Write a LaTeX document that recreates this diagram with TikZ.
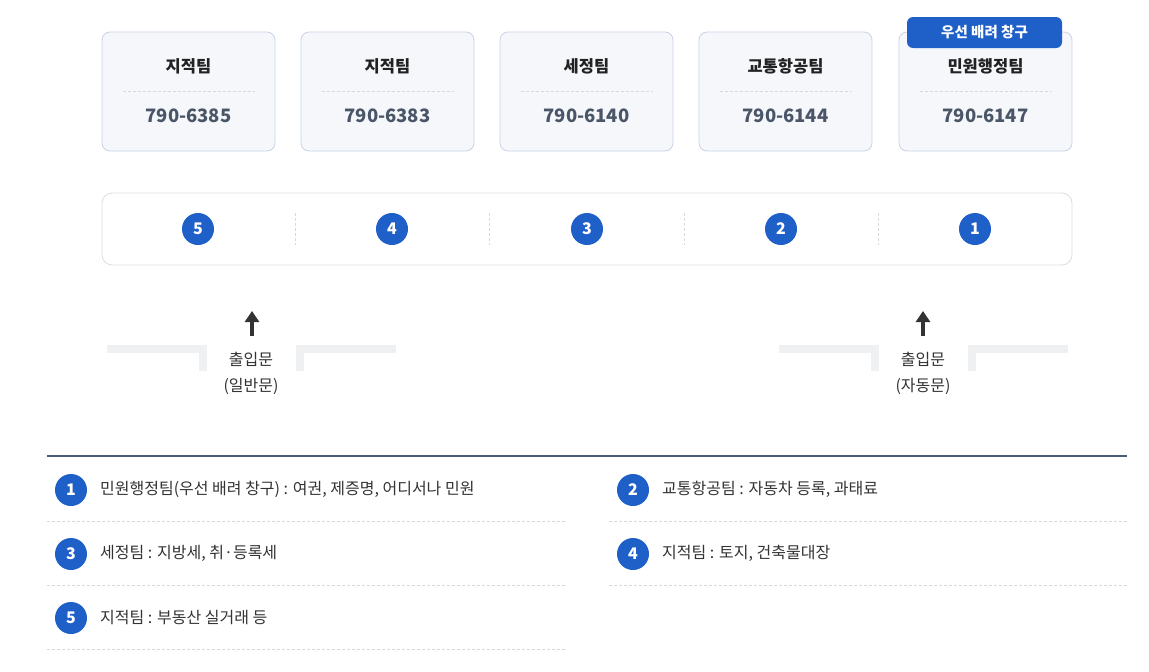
\documentclass[tikz,border=0pt]{standalone}
\usepackage{fontspec}
\setmainfont{Noto Sans CJK KR}
\usetikzlibrary{arrows.meta}
\definecolor{blue1}{HTML}{1F5FC8}
\definecolor{boxfill}{HTML}{F5F7FB}
\definecolor{boxline}{HTML}{C9D3E6}
\definecolor{stripline}{HTML}{DCDDDF}
\definecolor{dashc}{HTML}{D6D9DE}
\definecolor{titlec}{HTML}{222222}
\definecolor{numc}{HTML}{4A5568}
\definecolor{txt}{HTML}{333333}
\definecolor{wall}{HTML}{EFF0F1}
\definecolor{rule}{HTML}{4A5A78}
\tikzset{
  team/.style={draw=boxline, fill=boxfill, rounded corners=8pt, line width=0.8pt, minimum width=173pt, minimum height=119pt, inner sep=0pt},
  ttl/.style={font=\fontsize{16.5}{18}\selectfont\bfseries, text=titlec, inner sep=0pt},
  num/.style={font=\fontsize{18.5}{20}\selectfont\bfseries, text=numc, inner sep=0pt},
  badge/.style={fill=blue1, rounded corners=6pt, text=white, font=\fontsize{14.5}{16}\selectfont\bfseries, minimum width=155pt, minimum height=31pt, inner sep=0pt},
  strip/.style={draw=stripline, fill=white, rounded corners=10pt, line width=0.8pt, minimum width=970pt, minimum height=72pt, inner sep=0pt},
  dot/.style={circle, fill=blue1, text=white, minimum size=32pt, inner sep=0pt, font=\fontsize{16}{16}\selectfont\bfseries},
  sep/.style={draw=dashc, dash pattern=on 3pt off 2pt, line width=0.8pt},
  door/.style={text=txt, font=\fontsize{16}{17}\selectfont, inner sep=0pt},
  wallc/.style={fill=wall, draw=none},
  uparrow/.style={draw=txt, line width=4pt, -{Triangle[width=14pt,length=11pt]}},
  legtxt/.style={text=txt, font=\fontsize{16}{17}\selectfont, anchor=west, inner sep=0pt},
}
\begin{document}
\begin{tikzpicture}[x=1pt,y=-1pt]
\useasboundingbox[fill=white] (0,0) rectangle (1149,672);
% top team boxes
\foreach \i/\x/\t/\n in {1/188.5/지적팀/790-6385, 2/387.5/지적팀/790-6383, 3/586.5/세정팀/790-6140, 4/785.5/교통항공팀/790-6144, 5/985.5/민원행정팀/790-6147}{
  \node[team] (t\i) at (\x,91.5) {};
  \node[ttl] (tt\i) at (\x,66) {\t};
  \draw[sep] (\x-66,91.5) -- (\x+66,91.5);
  \node[num] (tn\i) at (\x,115.5) {\n};
}
\node[badge] (badge) at (984.5,32.5) {우선 배려 창구};
% strip
\node[strip] (strip) at (587,229) {};
\foreach \n/\x in {5/198,4/392,3/587,2/781,1/975}{
  \node[dot] (c\n) at (\x,229) {\n};
}
\foreach \x in {295,489,684,878}{
  \draw[sep] (\x,213) -- (\x,245);
}
% doors
\fill[wallc] (107,345) rectangle (207,353);
\fill[wallc] (199,345) rectangle (207,371);
\fill[wallc] (296,345) rectangle (304,371);
\fill[wallc] (296,345) rectangle (396,353);
\fill[wallc] (779,345) rectangle (879,353);
\fill[wallc] (871,345) rectangle (879,371);
\fill[wallc] (968,345) rectangle (976,371);
\fill[wallc] (968,345) rectangle (1068,353);
\node[door] (d1a) at (251,359) {출입문};
\node[door] (d1b) at (251,386) {(일반문)};
\node[door] (d2a) at (923,359) {출입문};
\node[door] (d2b) at (923,386) {(자동문)};
\coordinate (a1s) at (252,336);
\coordinate (a1e) at (252,311);
\coordinate (a2s) at (923,336);
\coordinate (a2e) at (923,311);
\draw[uparrow] (a1s) -- (a1e);
\draw[uparrow] (a2s) -- (a2e);
% legend
\draw[rule, line width=2pt] (47,456) -- (1127,456);
\node[dot] (l1) at (71,490) {1};
\node[legtxt] (lt1) at (100,489) {민원행정팀(우선 배려 창구) : 여권, 제증명, 어디서나 민원};
\node[dot] (l3) at (71,554) {3};
\node[legtxt] (lt3) at (100,553) {세정팀 : 지방세, 취·등록세};
\node[dot] (l5) at (71,618) {5};
\node[legtxt] (lt5) at (100,617) {지적팀 : 부동산 실거래 등};
\node[dot] (l2) at (633,490) {2};
\node[legtxt] (lt2) at (662,489) {교통항공팀 : 자동차 등록, 과태료};
\node[dot] (l4) at (633,554) {4};
\node[legtxt] (lt4) at (662,553) {지적팀 : 토지, 건축물대장};
\foreach \y in {521,585,649}{\draw[sep] (47,\y) -- (565,\y);}
\foreach \y in {521,585}{\draw[sep] (609,\y) -- (1127,\y);}
\end{tikzpicture}
\end{document}
